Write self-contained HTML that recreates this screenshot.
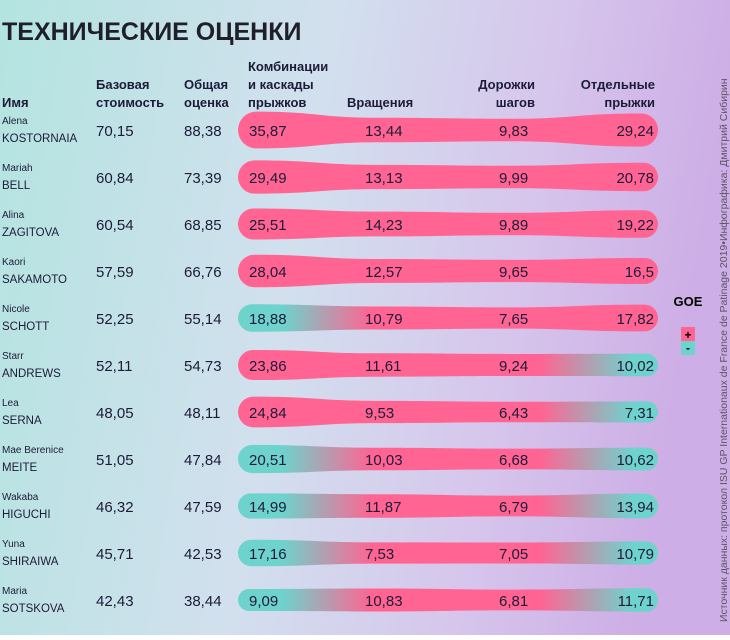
<!DOCTYPE html>
<html><head><meta charset="utf-8">
<style>
html,body{margin:0;padding:0}
body{width:730px;height:635px;overflow:hidden;font-family:"Liberation Sans",sans-serif;color:#1d1b38}
</style></head>
<body>
<svg id="c" width="730" height="635" xmlns="http://www.w3.org/2000/svg">
<defs>
<linearGradient id="bg" x1="0" y1="0" x2="1" y2="0.15">
<stop offset="0" stop-color="#b3e4e0"/><stop offset="0.45" stop-color="#d2e0ee"/><stop offset="0.75" stop-color="#d6c6ec"/><stop offset="1" stop-color="#cdaee6"/>
</linearGradient>
</defs>
<rect width="730" height="635" fill="url(#bg)"/>
<text x="2" y="40" font-size="25" font-weight="bold" fill="#1f1f2a">ТЕХНИЧЕСКИЕ ОЦЕНКИ</text>
<g font-size="13" font-weight="bold" fill="#1d1b38">
<text x="2" y="107">Имя</text>
<text x="96" y="89">Базовая</text><text x="96" y="107">стоимость</text>
<text x="184" y="89">Общая</text><text x="184" y="107">оценка</text>
<text x="248" y="71">Комбинации</text><text x="248" y="89">и каскады</text><text x="248" y="107">прыжков</text>
<text x="347" y="107">Вращения</text>
<text x="535" y="89" text-anchor="end">Дорожки</text><text x="535" y="107" text-anchor="end">шагов</text>
<text x="655" y="89" text-anchor="end">Отдельные</text><text x="655" y="107" text-anchor="end">прыжки</text>
</g>
<g id="rows"></g>
<g>
<text x="688" y="306" font-size="13" font-weight="bold" text-anchor="middle">GOE</text>
<rect x="681" y="327" width="14" height="14" fill="#ff6492"/>
<text x="688" y="339" font-size="12" font-weight="bold" text-anchor="middle">+</text>
<rect x="681" y="341" width="14" height="14" fill="#6ed3cc"/>
<text x="688" y="352" font-size="12" font-weight="bold" text-anchor="middle">-</text>
</g>
<text transform="translate(727,622) rotate(-90)" font-size="10.5" fill="#5a5566">Источник данных: протокол ISU GP Internationaux de France de Patinage 2019•Инфографика: Дмитрий Сибирин</text>
</svg>
<script>
const firstNames=["Alena","Mariah","Alina","Kaori","Nicole","Starr","Lea","Mae Berenice","Wakaba","Yuna","Maria"];
const lastNames=["KOSTORNAIA","BELL","ZAGITOVA","SAKAMOTO","SCHOTT","ANDREWS","SERNA","MEITE","HIGUCHI","SHIRAIWA","SOTSKOVA"];
const baseValue=["70,15","60,84","60,54","57,59","52,25","52,11","48,05","51,05","46,32","45,71","42,43"];
const totalScore=["88,38","73,39","68,85","66,76","55,14","54,73","48,11","47,84","47,59","42,53","38,44"];
const jumpCombos=[35.87,29.49,25.51,28.04,18.88,23.86,24.84,20.51,14.99,17.16,9.09];
const spins=[13.44,13.13,14.23,12.57,10.79,11.61,9.53,10.03,11.87,7.53,10.83];
const steps=[9.83,9.99,9.89,9.65,7.65,9.24,6.43,6.68,6.79,7.05,6.81];
const soloJumps=[29.24,20.78,19.22,16.5,17.82,10.02,7.31,10.62,13.94,10.79,11.71];
const goeCombos=["+","+","+","+","-","+","+","-","-","-","-"];
const goeSpins=["+","+","+","+","+","+","+","+","+","+","+"];
const goeSteps=["+","+","+","+","+","+","+","+","+","+","+"];
const goeSolo=["+","+","+","+","+","-","-","-","-","-","-"];

const NS="http://www.w3.org/2000/svg";
const g=document.getElementById('rows');
const defs=document.querySelector('defs');
const yRow=i=>130+i*47;
const half=v=>(17+v*0.55)/2;
const fmt=v=>String(v).replace('.',',');
const col=s=>s==="+"?"#ff6492":"#6ed3cc";
function mk(t,a){const e=document.createElementNS(NS,t);for(const k in a)e.setAttribute(k,a[k]);return e;}
for(let i=0;i<firstNames.length;i++){
  const y=yRow(i);
  const row=mk('g',{});
  
  
  const vals=[jumpCombos[i],spins[i],steps[i],soloJumps[i]];
  const goes=[goeCombos[i],goeSpins[i],goeSteps[i],goeSolo[i]];
  const gid='gr'+i;
  const lg=mk('linearGradient',{id:gid,gradientUnits:'userSpaceOnUse',x1:238,y1:0,x2:658,y2:0});
  const stops=[[238,0],[282,0],[372,1],[510,2],[540,2],[632,3],[658,3]];
  stops.forEach(([x,k])=>lg.appendChild(mk('stop',{offset:(x-238)/420,'stop-color':col(goes[k])})));
  defs.appendChild(lg);
  const h=vals.map(half);
  const L=238,R=658;
  const ax=[L+h[0],380,510,R-h[3]];
  let d=`M${ax[0]},${y-h[0]}`;
  for(let k=1;k<4;k++){const mx=(ax[k-1]+ax[k])/2;d+=` C${mx},${y-h[k-1]} ${mx},${y-h[k]} ${ax[k]},${y-h[k]}`;}
  d+=` A${h[3]},${h[3]} 0 0 1 ${ax[3]},${y+h[3]}`;
  for(let k=2;k>=0;k--){const mx=(ax[k+1]+ax[k])/2;d+=` C${mx},${y+h[k+1]} ${mx},${y+h[k]} ${ax[k]},${y+h[k]}`;}
  d+=` A${h[0]},${h[0]} 0 0 1 ${ax[0]},${y-h[0]} Z`;
  const bar=mk('path',{d:d,fill:`url(#${gid})`});
  
  
  row.appendChild(bar);
  const t=(x,yy,s,fs,anchor,name)=>{const e=mk('text',{x:x,y:yy,'font-size':fs,'text-anchor':anchor||'start',fill:'#1d1b38'});e.textContent=s;row.appendChild(e);};
  t(2,y-6,firstNames[i],10,'start','first-name');
  t(2,y+12,lastNames[i],11.5,'start','last-name');
  t(96,y+6,baseValue[i],15,'start','base-value');
  t(184,y+6,totalScore[i],15,'start','total-score');
  t(249,y+6,fmt(vals[0]),15,'start','jump-combos-value');
  t(365,y+6,fmt(vals[1]),15,'start','spins-value');
  t(499,y+6,fmt(vals[2]),15,'start','steps-value');
  t(654,y+6,fmt(vals[3]),15,'end','solo-jumps-value');
  g.appendChild(row);
}
</script>
</body></html>
